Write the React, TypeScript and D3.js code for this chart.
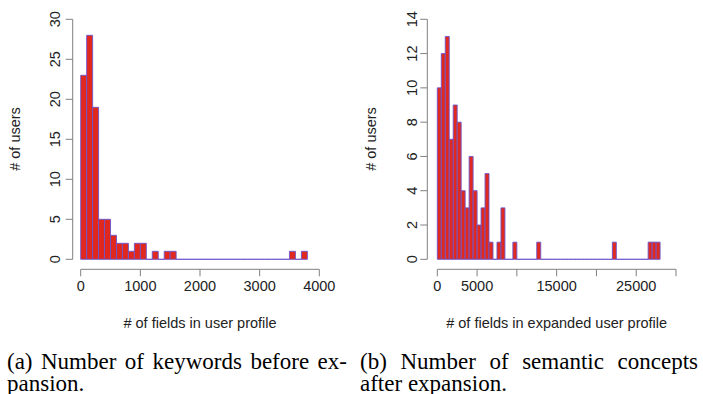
import React, { useRef, useEffect } from "react";
import * as d3 from "d3";

// histogram (a): keywords, bins of 100 from 0 to 3800
const keywordBinWidth = 100;
const keywordCounts = [
  23, 28, 19, 5, 5, 3, 2, 2, 1, 2, 2, 0, 1, 0, 1, 1,
  0, 0, 0, 0, 0, 0, 0, 0, 0, 0, 0, 0, 0, 0, 0, 0, 0, 0, 0,
  1, 0, 1,
];
const keywordXTicks = [0, 1000, 2000, 3000, 4000];
const keywordXLabels = ["0", "1000", "2000", "3000", "4000"];
const keywordYTicks = [0, 5, 10, 15, 20, 25, 30];

// histogram (b): semantic concepts, bins of 500 from 0 to 28000
const conceptBinWidth = 500;
const conceptCounts = [
  10, 12, 13, 7, 9, 8, 4, 3, 6, 4, 2, 3, 5, 1, 0, 1, 3, 0, 0, 1,
  0, 0, 0, 0, 0, 1, 0, 0, 0, 0, 0, 0, 0, 0, 0, 0, 0, 0, 0, 0,
  0, 0, 0, 0, 1, 0, 0, 0, 0, 0, 0, 0, 0, 1, 1, 1,
];
const conceptXTicks = [0, 5000, 10000, 15000, 20000, 25000, 30000];
const conceptXLabels = ["0", "5000", "", "15000", "", "25000", ""];
const conceptYTicks = [0, 2, 4, 6, 8, 10, 12, 14];

const BAR_FILL = "#e0281f";
const BAR_STROKE = "#6c56cc";
const AXIS = "#808080";
const SANS = "'Liberation Sans', Arial, sans-serif";
const SERIF = "'Liberation Serif', 'Times New Roman', serif";

type Panel = {
  counts: number[];
  binWidth: number;
  xDomain: [number, number];
  xRange: [number, number];
  yMax: number;
  xTicks: number[];
  xLabels: string[];
  yTicks: number[];
  yAxisX: number;
  yLabelX: number;
  yTitleX: number;
  xTitle: string;
};

function drawPanel(svg: d3.Selection<SVGSVGElement, unknown, null, undefined>, p: Panel) {
  const x = d3.scaleLinear().domain(p.xDomain).range(p.xRange);
  const y = d3.scaleLinear().domain([0, p.yMax]).range([259.3, 19.3]);
  const g = svg.append("g");

  // bars (zero bins drawn as flat outline like R does)
  g.selectAll("path.bar")
    .data(p.counts)
    .enter()
    .append("path")
    .attr("class", "bar")
    .attr("d", (d, i) => {
      const x0 = x(i * p.binWidth), x1 = x((i + 1) * p.binWidth);
      return `M${x0},${y(0)}V${y(d)}H${x1}V${y(0)}Z`;
    })
    .attr("fill", BAR_FILL)
    .attr("stroke", BAR_STROKE)
    .attr("stroke-width", 0.9);

  // x axis
  const xAxisY = 269.3;
  const xt = p.xTicks;
  g.append("line")
    .attr("x1", x(xt[0])).attr("x2", x(xt[xt.length - 1]))
    .attr("y1", xAxisY).attr("y2", xAxisY)
    .attr("stroke", AXIS);
  g.selectAll("line.xt").data(xt).enter().append("line")
    .attr("x1", d => x(d)).attr("x2", d => x(d))
    .attr("y1", xAxisY).attr("y2", xAxisY + 7)
    .attr("stroke", AXIS);
  g.selectAll("text.xl").data(xt).enter().append("text")
    .attr("x", d => x(d)).attr("y", 291)
    .attr("text-anchor", "middle")
    .style("font-family", SANS).style("font-size", "14.5px").style("fill", "#222")
    .text((d, i) => p.xLabels[i]);

  // y axis
  const yt = p.yTicks;
  g.append("line")
    .attr("x1", p.yAxisX).attr("x2", p.yAxisX)
    .attr("y1", y(yt[0])).attr("y2", y(yt[yt.length - 1]))
    .attr("stroke", AXIS);
  g.selectAll("line.yt").data(yt).enter().append("line")
    .attr("x1", p.yAxisX - 7).attr("x2", p.yAxisX)
    .attr("y1", d => y(d)).attr("y2", d => y(d))
    .attr("stroke", AXIS);
  g.selectAll("text.yl").data(yt).enter().append("text")
    .attr("transform", d => `translate(${p.yLabelX},${y(d)}) rotate(-90)`)
    .attr("text-anchor", "middle")
    .style("font-family", SANS).style("font-size", "14.5px").style("fill", "#222")
    .text(d => d);

  // titles
  g.append("text")
    .attr("transform", `translate(${p.yTitleX},139) rotate(-90)`)
    .attr("text-anchor", "middle")
    .style("font-family", SANS).style("font-size", "14.5px").style("fill", "#222")
    .text("# of users");
  g.append("text")
    .attr("x", (p.xRange[0] + p.xRange[1]) / 2).attr("y", 328)
    .attr("text-anchor", "middle")
    .style("font-family", SANS).style("font-size", "14.5px").style("fill", "#222")
    .text(p.xTitle);
}

export default function App() {
  const svgRef = useRef<SVGSVGElement>(null);

  useEffect(() => {
    const svg = d3.select(svgRef.current!);
    svg.selectAll("*").remove();

    drawPanel(svg, {
      counts: keywordCounts, binWidth: keywordBinWidth,
      xDomain: [0, 4000], xRange: [80.7, 319.3], yMax: 30,
      xTicks: keywordXTicks, xLabels: keywordXLabels, yTicks: keywordYTicks,
      yAxisX: 72.7, yLabelX: 60, yTitleX: 20,
      xTitle: "# of fields in user profile",
    });
    drawPanel(svg, {
      counts: conceptCounts, binWidth: conceptBinWidth,
      xDomain: [0, 30000], xRange: [437.3, 676], yMax: 14,
      xTicks: conceptXTicks, xLabels: conceptXLabels, yTicks: conceptYTicks,
      yAxisX: 427.3, yLabelX: 417, yTitleX: 376,
      xTitle: "# of fields in expanded user profile",
    });

    // captions; justified first lines are stretched to the column width
    const cap = (x: number, yy: number, t: string, fitWidth = 0) => {
      const el = svg.append("text").attr("x", x).attr("y", yy)
        .style("font-family", SERIF).style("font-size", "23px").style("fill", "#000")
        .text(t);
      if (fitWidth) {
        const natural = (el.node() as SVGTextElement).getComputedTextLength();
        const gaps = t.split(" ").length - 1;
        const ws = (fitWidth - natural) / gaps;
        if (ws > 0) el.style("word-spacing", `${ws}px`);
        else el.attr("textLength", fitWidth).attr("lengthAdjust", "spacingAndGlyphs");
      }
    };
    cap(7, 369, "(a) Number of keywords before ex-", 340);
    cap(7, 391, "pansion.");
    cap(360, 369, "(b) Number of semantic concepts", 338);
    cap(360, 391, "after expansion.");
  }, []);

  return (
    <div style={{ position: "fixed", left: 0, top: 0 }}>
      <svg ref={svgRef} width={703} height={394} style={{ display: "block", background: "#fff" }} />
    </div>
  );
}
